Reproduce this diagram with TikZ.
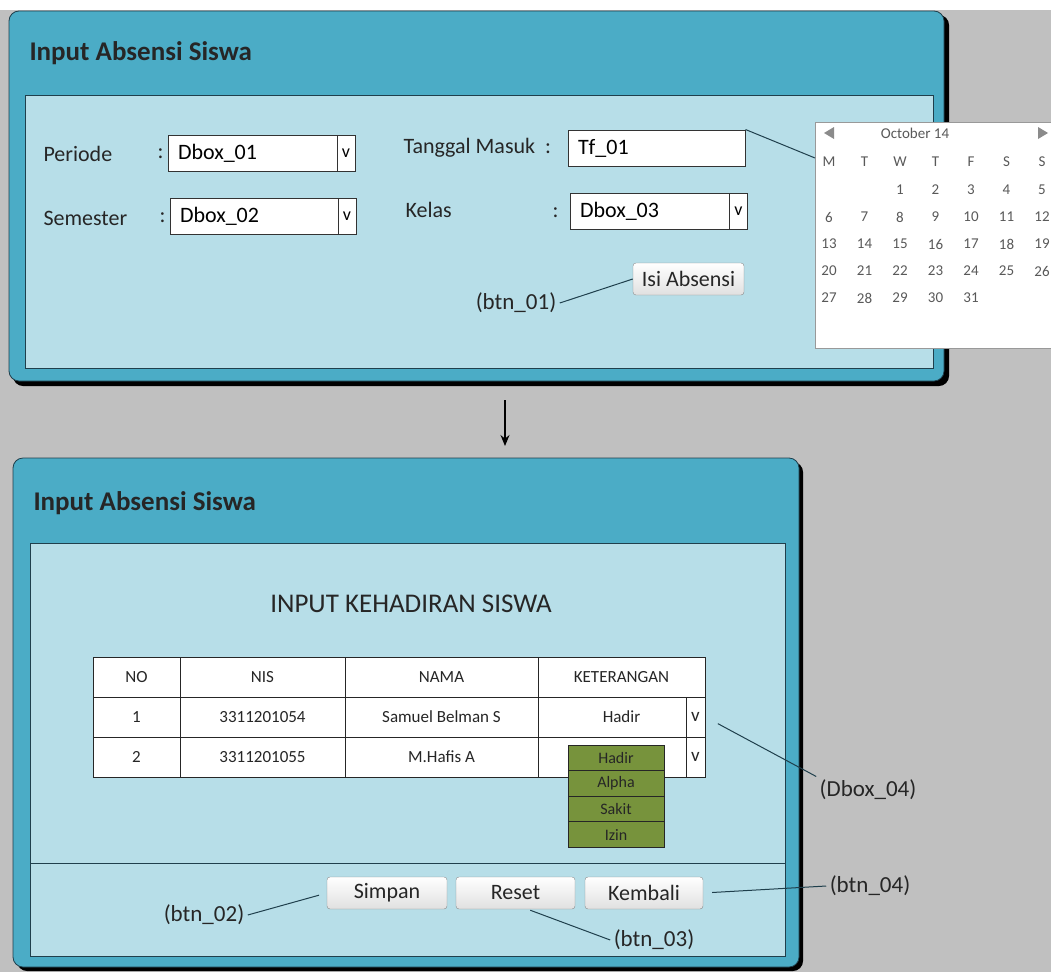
\documentclass[tikz,border=0pt]{standalone}
\usepackage{fontspec}
\setmainfont{Carlito}
\usetikzlibrary{arrows.meta}
\definecolor{framecol}{HTML}{4BACC6}
\definecolor{panelcol}{HTML}{B7DEE8}
\definecolor{bgcol}{HTML}{C0C0C0}
\definecolor{listcol}{HTML}{77933C}
\definecolor{edgecol}{HTML}{1F3F4C}
\definecolor{textcol}{HTML}{262626}
\definecolor{calgray}{HTML}{595959}
\tikzstyle{winshadow}=[fill=black, rounded corners=10pt]
\tikzstyle{winframe}=[draw=edgecol, fill=framecol, rounded corners=10pt, line width=0.8pt]
\tikzstyle{panel}=[draw=edgecol, fill=panelcol, line width=1pt]
\tikzstyle{wintitle}=[anchor=west, font=\fontsize{27}{30}\selectfont\bfseries, text=black!85]
\tikzstyle{label}=[anchor=west, font=\fontsize{22}{24}\selectfont, text=textcol]
\tikzstyle{field}=[draw=black!80, fill=white, line width=1pt, minimum height=36pt, inner xsep=10pt, inner ysep=0pt, align=left, font=\fontsize{22}{24}\selectfont]
\tikzstyle{dropbtn}=[draw=black!80, fill=white, line width=1pt, minimum width=18pt, minimum height=36pt, inner sep=0pt, font=\fontsize{18}{18}\selectfont]
\tikzstyle{btn}=[draw=black!45, rounded corners=3pt, top color=white, bottom color=black!12, minimum height=32pt, inner sep=1pt, font=\fontsize{22}{24}\selectfont, text=textcol]
\tikzstyle{note}=[font=\fontsize{23}{25}\selectfont, text=textcol]
\tikzstyle{pointer}=[draw=edgecol, line width=1pt]
\tikzstyle{caltext}=[font=\fontsize{15}{17}\selectfont, text=calgray]
\tikzstyle{cell}=[draw=black!85, fill=white, line width=1pt, minimum height=40pt, inner sep=0pt, font=\fontsize{17}{18}\selectfont, text=textcol]
\tikzstyle{listitem}=[draw=black!85, fill=listcol, line width=1pt, minimum width=96pt, minimum height=25.5pt, inner sep=0pt, font=\fontsize{16}{17}\selectfont, text=black!85]

\begin{document}
\begin{tikzpicture}[x=1pt, y=-1pt]
  \useasboundingbox (0,0) rectangle (1051,972);
  \fill[white] (0,0) rectangle (1051,972);
  \fill[bgcol] (0,10) rectangle (1051,972);

  % first window
  \fill[winshadow] (13,15) rectangle (949,386);
  \draw[winframe] (9,11) rectangle (944,381);
  \node[wintitle] (title1) at (26,53) {Input Absensi Siswa};
  \draw[panel] (25,95) rectangle (933,368);

  \node[label] (periode) at (40,154) {Periode};
  \node[label] at (154,154) {:};
  \node[field, text width=167pt] (dbox01) at (261.5,153.5) {Dbox\_01};
  \node[dropbtn] (dbox01v) at (346,153.5) {v};

  \node[label] (semester) at (40,218) {Semester};
  \node[label] at (156,218) {:};
  \node[field, text width=166pt] (dbox02) at (263,216.5) {Dbox\_02};
  \node[dropbtn] (dbox02v) at (347,216.5) {v};

  \node[label] (tanggal) at (400,148) {Tanggal Masuk \ :};
  \node[field, text width=157pt] (tf01) at (656.5,148) {Tf\_01};

  \node[label] (kelas) at (402,210) {Kelas};
  \node[label] at (549,213) {:};
  \node[field, text width=157pt] (dbox03) at (658.5,211.5) {Dbox\_03};
  \node[dropbtn] (dbox03v) at (738.5,211.5) {v};

  \node[btn, minimum width=111pt] (btn01) at (688.5,279) {Isi Absensi};
  \node[note] (btn01lbl) at (516,303) {(btn\_01)};
  \draw[pointer] (btn01lbl.east) -- (btn01.west);

  % date picker
  \begin{scope}
    \clip (0,0) rectangle (1051,972);
    \node[draw=black!40, fill=white, minimum width=260pt, minimum height=226pt, anchor=north west] (cal) at (815,122) {};
  \end{scope}
  \coordinate (calpin) at (815,158);
  \draw[pointer] (tf01.north east) -- (calpin);
  \node[caltext] (month) at (915,133) {October 14};
  \fill[calgray!70] (824,133) -- (834,127) -- (834,139) -- cycle;
  \fill[calgray!70] (1048,133) -- (1038,127) -- (1038,139) -- cycle;
  \foreach \d [count=\i from 0] in {M,T,W,T,F,S,S}
    \node[caltext] at (829+35.5*\i,162) {\d};
  \foreach \n in {1,...,31} {
    \pgfmathtruncatemacro{\col}{mod(\n+1,7)}
    \pgfmathtruncatemacro{\row}{floor((\n+1)/7)}
    \node[caltext] at (829+35.5*\col,190+27*\row) {\n};
  }

  % transition
  \coordinate (arrtop) at (505,400);
  \coordinate (arrbot) at (505,446);
  \draw[line width=1.4pt, -{Stealth[length=11pt,width=9pt]}] (arrtop) -- (arrbot);

  % second window
  \fill[winshadow] (17,462) rectangle (803,971);
  \draw[winframe] (13,458) rectangle (799,967);
  \node[wintitle] (title2) at (30,503) {Input Absensi Siswa};
  \draw[panel] (30,543) rectangle (785,956);
  \draw[panel] (30,863) -- (785,863);

  \node[font=\fontsize{27}{30}\selectfont, text=textcol] (heading) at (411,604) {INPUT KEHADIRAN SISWA};

  % table
  \foreach \txt/\cx/\w [count=\c] in {NO/136.5/87, NIS/262.5/165, NAMA/441.5/193, KETERANGAN/621.5/167}
    \node[cell, minimum width=\w pt] (h\c) at (\cx,677) {\txt};
  \foreach \no/\nis/\nama/\ket/\cy [count=\r] in {1/3311201054/Samuel Belman S/Hadir/717, 2/3311201055/M.Hafis A//757} {
    \node[cell, minimum width=87pt] (r\r c1) at (136.5,\cy) {\no};
    \node[cell, minimum width=165pt] (r\r c2) at (262.5,\cy) {\nis};
    \node[cell, minimum width=193pt] (r\r c3) at (441.5,\cy) {\nama};
    \node[cell, minimum width=167pt] (r\r c4) at (621.5,\cy) {\ket};
    \node[cell, minimum width=19pt, font=\fontsize{19}{19}\selectfont] (r\r v) at (695.5,\cy) {v};
  }

  % option list
  \foreach \opt/\cy [count=\k] in {Hadir/758, Alpha/783.5, Sakit/809, Izin/834.5}
    \node[listitem] (opt\k) at (616,\cy) {\opt};

  \node[note] (dbox04lbl) at (868,790) {(Dbox\_04)};
  \draw[pointer, shorten <=14pt] (r1v.east) -- (dbox04lbl.north west);

  % buttons
  \node[btn, minimum width=120pt] (simpan) at (387,893) {Simpan};
  \node[btn, minimum width=119pt] (reset) at (515.5,893) {Reset};
  \node[btn, minimum width=118pt] (kembali) at (644,893) {Kembali};

  \node[note] (btn02lbl) at (204,915) {(btn\_02)};
  \node[note] (btn03lbl) at (654,940) {(btn\_03)};
  \node[note] (btn04lbl) at (870,886) {(btn\_04)};
  \draw[pointer, shorten >=8pt] (btn02lbl.east) -- (simpan.west);
  \draw[pointer, shorten <=3pt] ([xshift=12pt]reset.south) -- (btn03lbl.west);
  \draw[pointer, shorten <=9pt] (kembali.east) -- (btn04lbl.west);
\end{tikzpicture}
\end{document}
